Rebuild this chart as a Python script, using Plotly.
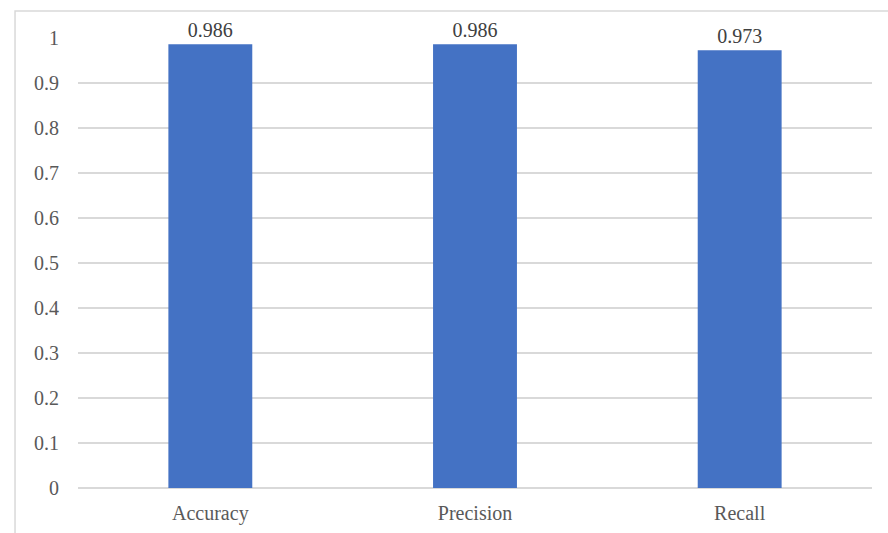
import plotly.graph_objects as go

# Classification metrics
metrics = ["Accuracy", "Precision", "Recall"]
scores = [0.986, 0.986, 0.973]
score_labels = ["0.986", "0.986", "0.973"]
y_ticks = [0, 0.1, 0.2, 0.3, 0.4, 0.5, 0.6, 0.7, 0.8, 0.9, 1]
y_tick_text = ["0", "0.1", "0.2", "0.3", "0.4", "0.5", "0.6", "0.7", "0.8", "0.9", "1"]

FONT = "Liberation Serif, Times New Roman, serif"
GRID = "#D9D9D9"
SIZE = 20

fig = go.Figure(
    go.Bar(
        x=metrics,
        y=scores,
        marker=dict(color="#4472C4", line=dict(width=0)),
        text=score_labels,
        textposition="outside",
        textfont=dict(family=FONT, size=SIZE, color="#404040"),
        cliponaxis=False,
        hoverinfo="x+y",
    )
)

fig.update_layout(
    width=888,
    height=533,
    margin=dict(l=78, r=16, t=38, b=45),
    paper_bgcolor="white",
    plot_bgcolor="white",
    bargap=0.683,
    showlegend=False,
    font=dict(family=FONT, size=SIZE, color="#595959"),
    xaxis=dict(
        automargin=False,
        showgrid=False,
        showline=False,
        zeroline=False,
        ticks="",
        ticklabelstandoff=11,
        tickfont=dict(family=FONT, size=SIZE, color="#595959"),
    ),
    yaxis=dict(
        automargin=False,
        range=[0, 1],
        tickvals=y_ticks,
        ticktext=y_tick_text,
        showgrid=True,
        gridcolor=GRID,
        gridwidth=1.5,
        zeroline=True,
        zerolinecolor=GRID,
        zerolinewidth=1.5,
        showline=False,
        ticks="",
        ticklabelstandoff=18,
        tickfont=dict(family=FONT, size=SIZE, color="#595959"),
    ),
    shapes=[
        dict(
            type="rect",
            xref="paper",
            yref="paper",
            x0=-0.0793,
            x1=1.3,
            y0=-0.3,
            y1=1.06,
            line=dict(color=GRID, width=1.5),
            fillcolor="rgba(0,0,0,0)",
            layer="below",
        )
    ],
)

fig.write_html("out.html")
